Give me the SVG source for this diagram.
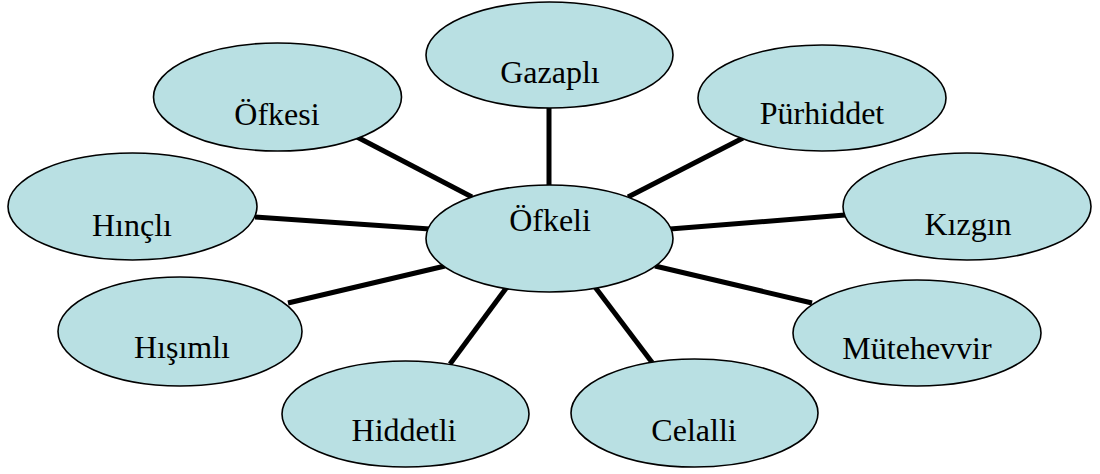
<svg xmlns="http://www.w3.org/2000/svg" width="1100" height="474" viewBox="0 0 1100 474">
<style>
.n ellipse{fill:#b9e0e3;stroke:#000;stroke-width:1.6}
.n text{font-family:"Liberation Serif","Times New Roman",serif;font-size:32px;fill:#000;text-anchor:middle}
#connectors line{stroke:#000;stroke-width:5}
</style>
<rect width="1100" height="474" fill="#fff"/>
<g id="connectors">
<line x1="549" y1="105" x2="549" y2="190"/>
<line x1="357" y1="137" x2="472" y2="197"/>
<line x1="743" y1="138" x2="628" y2="197"/>
<line x1="255" y1="217" x2="430" y2="229"/>
<line x1="845" y1="215" x2="670" y2="229"/>
<line x1="288" y1="303" x2="445" y2="266"/>
<line x1="812" y1="303" x2="655" y2="266"/>
<line x1="450" y1="364" x2="507" y2="287"/>
<line x1="654" y1="365" x2="595" y2="287"/>
</g>
<g id="n-center" class="n"><ellipse cx="549.5" cy="238.5" rx="123.5" ry="53.5"/><text x="550" y="231">Öfkeli</text></g>
<g id="n-gazapli" class="n"><ellipse cx="549.5" cy="55" rx="123.5" ry="53"/><text x="550" y="83">Gazaplı</text></g>
<g id="n-ofkesi" class="n"><ellipse cx="277.5" cy="97" rx="124" ry="54"/><text x="277" y="125">Öfkesi</text></g>
<g id="n-purhiddet" class="n"><ellipse cx="822" cy="98" rx="124" ry="53"/><text x="822" y="124">Pürhiddet</text></g>
<g id="n-hincli" class="n"><ellipse cx="132.5" cy="206.5" rx="124.5" ry="53.5"/><text x="132" y="236">Hınçlı</text></g>
<g id="n-kizgin" class="n"><ellipse cx="967" cy="206.5" rx="124" ry="53.5"/><text x="968" y="235">Kızgın</text></g>
<g id="n-hisimli" class="n"><ellipse cx="180" cy="331.5" rx="122" ry="54.5"/><text x="182" y="358">Hışımlı</text></g>
<g id="n-mutehevvir" class="n"><ellipse cx="917" cy="333" rx="124" ry="53"/><text x="917" y="359">Mütehevvir</text></g>
<g id="n-hiddetli" class="n"><ellipse cx="405.5" cy="414" rx="123.5" ry="53"/><text x="404" y="441">Hiddetli</text></g>
<g id="n-celalli" class="n"><ellipse cx="694.5" cy="413" rx="123.5" ry="54"/><text x="694" y="441">Celalli</text></g>
</svg>
